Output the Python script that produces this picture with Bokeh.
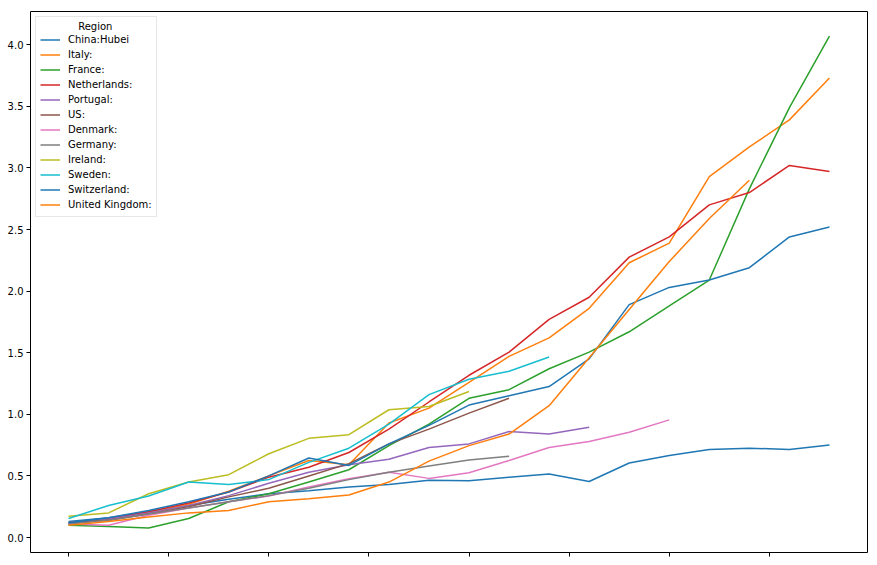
from bokeh.plotting import figure
from bokeh.models import Range1d, FixedTicker, NumeralTickFormatter
from bokeh.embed import file_html
from bokeh.resources import INLINE

# ---- data ----
day = [0, 1, 2, 3, 4, 5, 6, 7, 8, 9, 10, 11, 12, 13, 14, 15, 16, 17, 18, 19]

china_hubei = [0.13, 0.16, 0.21, 0.26, 0.31, 0.355, 0.38, 0.41, 0.43, 0.465,
               0.46, 0.49, 0.515, 0.455, 0.605, 0.665, 0.715, 0.725, 0.715, 0.75]
italy = [0.11, 0.15, 0.20, 0.27, 0.375, 0.50, 0.625, 0.59, 0.93, 1.05,
         1.26, 1.47, 1.62, 1.86, 2.23, 2.39, 2.93, 3.17, 3.39, 3.73]
france = [0.10, 0.09, 0.078, 0.154, 0.29, 0.355, 0.45, 0.55, 0.746, 0.92,
          1.13, 1.20, 1.37, 1.505, 1.67, 1.88, 2.09, 2.83, 3.49, 4.07]
netherlands = [0.12, 0.15, 0.21, 0.28, 0.37, 0.49, 0.57, 0.69, 0.88, 1.10,
               1.317, 1.505, 1.77, 1.95, 2.276, 2.44, 2.70, 2.80, 3.02, 2.97]
portugal = [0.12, 0.15, 0.20, 0.26, 0.34, 0.44, 0.53, 0.59, 0.635, 0.73,
            0.76, 0.86, 0.84, 0.895]
us = [0.12, 0.14, 0.19, 0.25, 0.33, 0.40, 0.50, 0.60, 0.76, 0.88, 1.01, 1.13]
denmark = [0.11, 0.10, 0.18, 0.24, 0.29, 0.337, 0.41, 0.477, 0.53, 0.48,
           0.525, 0.625, 0.73, 0.78, 0.855, 0.955]
germany = [0.11, 0.14, 0.19, 0.24, 0.29, 0.34, 0.40, 0.47, 0.53, 0.58, 0.63, 0.66]
ireland = [0.172, 0.20, 0.355, 0.45, 0.51, 0.68, 0.805, 0.835, 1.037, 1.064, 1.185]
sweden = [0.154, 0.26, 0.337, 0.45, 0.43, 0.47, 0.61, 0.725, 0.92, 1.16,
          1.285, 1.35, 1.465]
switzerland = [0.12, 0.16, 0.22, 0.29, 0.37, 0.50, 0.645, 0.585, 0.76, 0.91,
               1.075, 1.15, 1.225, 1.45, 1.89, 2.03, 2.09, 2.19, 2.44, 2.52]
united_kingdom = [0.10, 0.13, 0.167, 0.20, 0.22, 0.29, 0.315, 0.345, 0.45, 0.62,
                  0.746, 0.84, 1.07, 1.46, 1.85, 2.24, 2.59, 2.90]

regions = ["China:Hubei", "Italy:", "France:", "Netherlands:", "Portugal:", "US:",
           "Denmark:", "Germany:", "Ireland:", "Sweden:", "Switzerland:", "United Kingdom:"]
series = [china_hubei, italy, france, netherlands, portugal, us,
          denmark, germany, ireland, sweden, switzerland, united_kingdom]
colors = ["#1f77b4", "#ff7f0e", "#2ca02c", "#d62728", "#9467bd", "#8c564b",
          "#e377c2", "#7f7f7f", "#bcbd22", "#17becf", "#1f77b4", "#ff7f0e"]

legend_title = "Region"
x_ticks = [0, 2.5, 5, 7.5, 10, 12.5, 15, 17.5]
y_ticks = [0.0, 0.5, 1.0, 1.5, 2.0, 2.5, 3.0, 3.5, 4.0]

FONT = "DejaVu Sans"

p = figure(width=877, height=565, output_backend="svg", toolbar_location=None,
           x_range=Range1d(-0.95, 19.95), y_range=Range1d(-0.1216, 4.2696),
           min_border_left=30, min_border_right=10, min_border_top=11, min_border_bottom=13)

p.background_fill_color = "white"
p.border_fill_color = "white"
p.outline_line_color = "#000000"
p.outline_line_width = 1
p.grid.visible = False

for name, vals, col in zip(regions, series, colors):
    p.line(day[:len(vals)], vals, line_color=col, line_width=1.5, legend_label=name)

# axes
p.xaxis.ticker = FixedTicker(ticks=x_ticks)
p.xaxis.major_label_text_font_size = "0px"
p.xaxis.major_label_text_color = None
p.xaxis.major_label_standoff = 0
p.yaxis.ticker = FixedTicker(ticks=y_ticks)
p.yaxis.formatter = NumeralTickFormatter(format="0.0")
for ax in (p.xaxis, p.yaxis):
    ax.axis_line_color = None
    ax.major_tick_line_color = "#000000"
    ax.major_tick_out = 4
    ax.major_tick_in = 0
    ax.minor_tick_line_color = None
    ax.major_label_text_font = FONT
p.yaxis.major_label_text_color = "#000000"
p.yaxis.major_label_text_font_size = "10px"
p.yaxis.major_label_standoff = 3

# legend
lg = p.legend[0]
lg.location = "top_left"
lg.margin = 5
lg.padding = 4
lg.spacing = 0
lg.glyph_width = 20
lg.glyph_height = 15
lg.label_height = 15
lg.label_standoff = 8
lg.label_text_font = FONT
lg.label_text_font_size = "10px"
lg.label_text_color = "#000000"
# title is centred in the reference; the legend draws it left-aligned, so pad with no-break spaces
lg.title = "\u00a0" * 12 + legend_title
lg.title_text_font = FONT
lg.title_text_font_size = "10px"
lg.title_text_font_style = "normal"
lg.title_text_color = "#000000"
lg.title_standoff = 0
lg.background_fill_color = "white"
lg.background_fill_alpha = 0.8
lg.border_line_color = "#d0d0d0"
lg.border_line_width = 1

open("out.html", "w").write(file_html(p, INLINE))
